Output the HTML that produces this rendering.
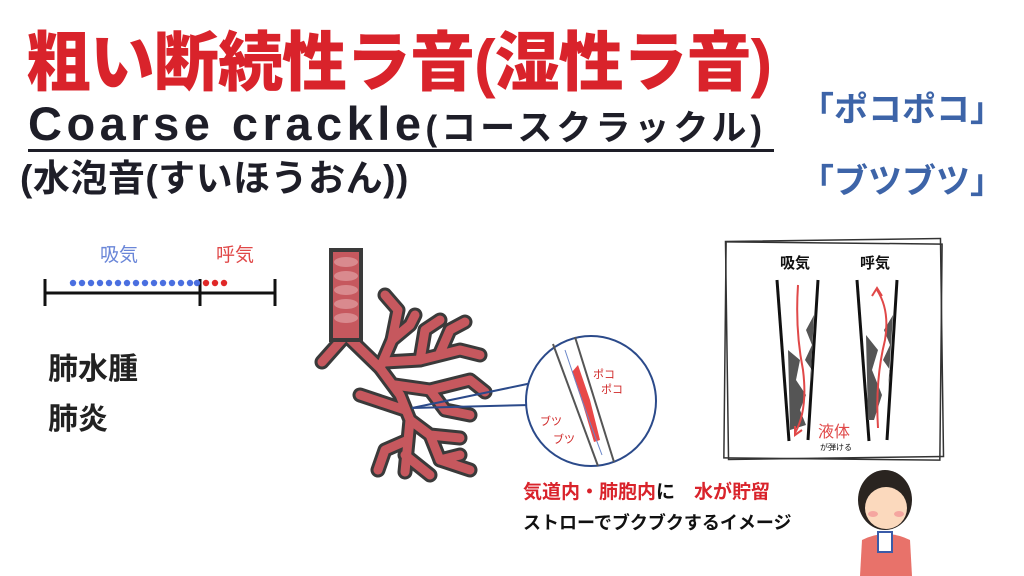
<!DOCTYPE html>
<html><head><meta charset="utf-8"><style>
body{margin:0;width:1024px;height:576px;background:#fff;position:relative;overflow:hidden;font-family:"Liberation Sans","Noto Sans CJK JP",sans-serif}
.a{position:absolute;white-space:nowrap;font-family:"Liberation Sans","Noto Sans CJK JP",sans-serif}
</style></head><body>
<div class="a" style="left:26px;top:18px;font-size:65px;font-weight:900;color:#d9232b;letter-spacing:-1px;line-height:90px">粗い断続性ラ音(湿性ラ音)</div>
<div class="a" style="left:28px;top:96px;font-size:47px;font-weight:700;color:#1e1e28;line-height:56px;letter-spacing:4.5px">Coarse crackle<span style="font-size:35px;letter-spacing:4px">(コースクラックル)</span></div>
<div style="position:absolute;left:28px;top:149px;width:746px;height:3px;background:#1e1e28"></div>
<div class="a" style="left:20px;top:157px;font-size:37px;font-weight:700;color:#1e1e28;line-height:44px;letter-spacing:0.5px">(水泡音(すいほうおん))</div>
<div class="a" style="left:800px;top:88px;font-size:34px;font-weight:700;color:#3d64a8;line-height:44px">「ポコポコ」</div>
<div class="a" style="left:800px;top:160px;font-size:34px;font-weight:700;color:#3d64a8;line-height:44px">「ブツブツ」</div>

<div class="a" style="left:100px;top:240px;font-size:19px;color:#6a86d8">吸気</div>
<div class="a" style="left:216px;top:240px;font-size:19px;color:#e04848">呼気</div>
<svg style="position:absolute;left:0;top:0" width="1024" height="576">
<g stroke="#111" stroke-width="3"><line x1="45" y1="293" x2="275" y2="293"/><line x1="45" y1="279" x2="45" y2="306"/><line x1="200" y1="279" x2="200" y2="306"/><line x1="275" y1="279" x2="275" y2="306"/></g>
<g fill="#4a6fe0">
<circle cx="73" cy="283" r="3.2"/><circle cx="82" cy="283" r="3.2"/><circle cx="91" cy="283" r="3.2"/><circle cx="100" cy="283" r="3.2"/><circle cx="109" cy="283" r="3.2"/><circle cx="118" cy="283" r="3.2"/><circle cx="127" cy="283" r="3.2"/><circle cx="136" cy="283" r="3.2"/><circle cx="145" cy="283" r="3.2"/><circle cx="154" cy="283" r="3.2"/><circle cx="163" cy="283" r="3.2"/><circle cx="172" cy="283" r="3.2"/><circle cx="181" cy="283" r="3.2"/><circle cx="190" cy="283" r="3.2"/><circle cx="197" cy="283" r="3.2"/></g>
<g fill="#e02828"><circle cx="206" cy="283" r="3.2"/><circle cx="215" cy="283" r="3.2"/><circle cx="224" cy="283" r="3.2"/></g>
<!-- bronchi -->
<g stroke-linecap="round" stroke-linejoin="round" fill="none">
<g stroke="#3a3a3a" stroke-width="15">
<path d="M346 335 L322 362"/>
<path d="M346 335 L380 368 L400 395 L410 420 L405 472"/>
<path d="M380 368 L392 340 L398 310 L385 295"/>
<path d="M392 340 L410 325 L415 315"/>
<path d="M385 362 L420 360 L460 350 L480 355"/>
<path d="M420 360 L425 330 L440 320"/>
<path d="M440 353 L450 330 L465 322"/>
<path d="M395 385 L430 390 L470 380 L485 392"/>
<path d="M430 390 L445 410 L470 415"/>
<path d="M405 410 L375 400 L360 395"/>
<path d="M410 420 L430 435 L460 438"/>
<path d="M430 435 L440 460 L470 470"/>
<path d="M408 440 L385 450 L378 470"/>
<path d="M405 455 L430 475"/>
<path d="M440 460 L460 455"/>
</g>
<g stroke="#c6585e" stroke-width="9">
<path d="M346 335 L322 362"/>
<path d="M346 335 L380 368 L400 395 L410 420 L405 472"/>
<path d="M380 368 L392 340 L398 310 L385 295"/>
<path d="M392 340 L410 325 L415 315"/>
<path d="M385 362 L420 360 L460 350 L480 355"/>
<path d="M420 360 L425 330 L440 320"/>
<path d="M440 353 L450 330 L465 322"/>
<path d="M395 385 L430 390 L470 380 L485 392"/>
<path d="M430 390 L445 410 L470 415"/>
<path d="M405 410 L375 400 L360 395"/>
<path d="M410 420 L430 435 L460 438"/>
<path d="M430 435 L440 460 L470 470"/>
<path d="M408 440 L385 450 L378 470"/>
<path d="M405 455 L430 475"/>
<path d="M440 460 L460 455"/>
</g>
</g>
<rect x="331" y="250" width="30" height="90" fill="#c6585e" stroke="#3a3a3a" stroke-width="4"/>
<g fill="#d98a8e"><ellipse cx="346" cy="262" rx="12" ry="5"/><ellipse cx="346" cy="276" rx="12" ry="5"/><ellipse cx="346" cy="290" rx="12" ry="5"/><ellipse cx="346" cy="304" rx="12" ry="5"/><ellipse cx="346" cy="318" rx="12" ry="5"/></g>
<!-- zoom circle -->
<g stroke="#2b4a8a" stroke-width="2" fill="none"><line x1="412" y1="408" x2="532" y2="383"/><line x1="412" y1="408" x2="530" y2="405"/></g>
<circle cx="591" cy="401" r="65" fill="#fff" stroke="#2b4a8a" stroke-width="2"/>
<g stroke="#555" stroke-width="2"><line x1="553" y1="344" x2="598" y2="466"/><line x1="575" y1="337" x2="614" y2="462"/></g>
<path d="M578 365 L590 400 L600 440 L594 442 L583 405 L572 372Z" fill="#e84848"/>
<path d="M565 350 Q585 410 602 455" stroke="#6a86c8" fill="none" stroke-width="1"/>
<text x="593" y="378" font-size="11" fill="#d02828" font-family="Noto Sans CJK JP">ポコ</text>
<text x="601" y="393" font-size="11" fill="#d02828" font-family="Noto Sans CJK JP">ポコ</text>
<text x="540" y="425" font-size="11" fill="#d02828" font-family="Noto Sans CJK JP">ブツ</text>
<text x="553" y="443" font-size="11" fill="#d02828" font-family="Noto Sans CJK JP">ブツ</text>
<!-- box -->
<g fill="none" stroke="#333" stroke-width="1.5"><rect x="727" y="240" width="215" height="218" transform="rotate(-0.8 835 349)"/><rect x="725" y="243" width="216" height="216" transform="rotate(0.6 835 349)"/></g>
<g stroke="#111" stroke-width="3"><line x1="777" y1="280" x2="789" y2="441"/><line x1="818" y1="280" x2="808" y2="440"/><line x1="857" y1="280" x2="869" y2="441"/><line x1="897" y1="280" x2="887" y2="440"/></g>
<g fill="#555"><path d="M788 350 L800 360 L796 380 L806 395 L800 410 L806 425 L790 430Z"/><path d="M814 315 L806 330 L812 345 L805 360 L812 370 L810 390Z"/><path d="M866 335 L878 350 L872 370 L882 395 L874 420 L868 420Z"/><path d="M893 315 L884 330 L890 345 L883 360 L890 370L888 390Z"/></g>
<g stroke="#e04848" stroke-width="2" fill="none"><path d="M798 285 Q795 330 803 370 Q808 410 795 433"/><path d="M795 426 L795 435 L802 430"/><path d="M878 428 Q875 380 885 340 Q890 310 877 290"/><path d="M872 296 L877 288 L882 296"/></g>
<text x="780" y="268" font-size="15" font-weight="700" fill="#111" font-family="Noto Sans CJK JP">吸気</text>
<text x="860" y="268" font-size="15" font-weight="700" fill="#111" font-family="Noto Sans CJK JP">呼気</text>
<text x="818" y="437" font-size="16" fill="#e04848" font-family="Noto Sans CJK JP">液体</text>
<text x="820" y="450" font-size="8" fill="#111" font-family="Noto Sans CJK JP">が弾ける</text>
<!-- girl -->
<ellipse cx="885" cy="500" rx="27" ry="30" fill="#2a2420"/>
<ellipse cx="886" cy="508" rx="21" ry="21" fill="#fbd9bd"/>
<ellipse cx="873" cy="514" rx="5" ry="3" fill="#f5a6a0"/><ellipse cx="899" cy="514" rx="5" ry="3" fill="#f5a6a0"/>
<path d="M866 492 Q886 470 906 494 L906 484 Q886 462 866 484Z" fill="#2a2420"/>
<path d="M862 540 Q886 528 910 540 L912 576 L860 576Z" fill="#e8726a"/>
<rect x="878" y="532" width="14" height="20" fill="#fff" stroke="#3b5ba8" stroke-width="2"/>
</svg>
<div class="a" style="left:523px;top:480px;font-size:19px;font-weight:700;color:#d9232b;line-height:26px">気道内・肺胞内<span style="color:#111">に</span>　水が貯留</div>
<div class="a" style="left:523px;top:510px;font-size:18px;font-weight:700;color:#111;line-height:26px">ストローでブクブクするイメージ</div>
<div class="a" style="left:48px;top:350px;font-size:30px;font-weight:700;color:#222;line-height:40px">肺水腫</div>
<div class="a" style="left:48px;top:400px;font-size:30px;font-weight:700;color:#222;line-height:40px">肺炎</div>
</body></html>
